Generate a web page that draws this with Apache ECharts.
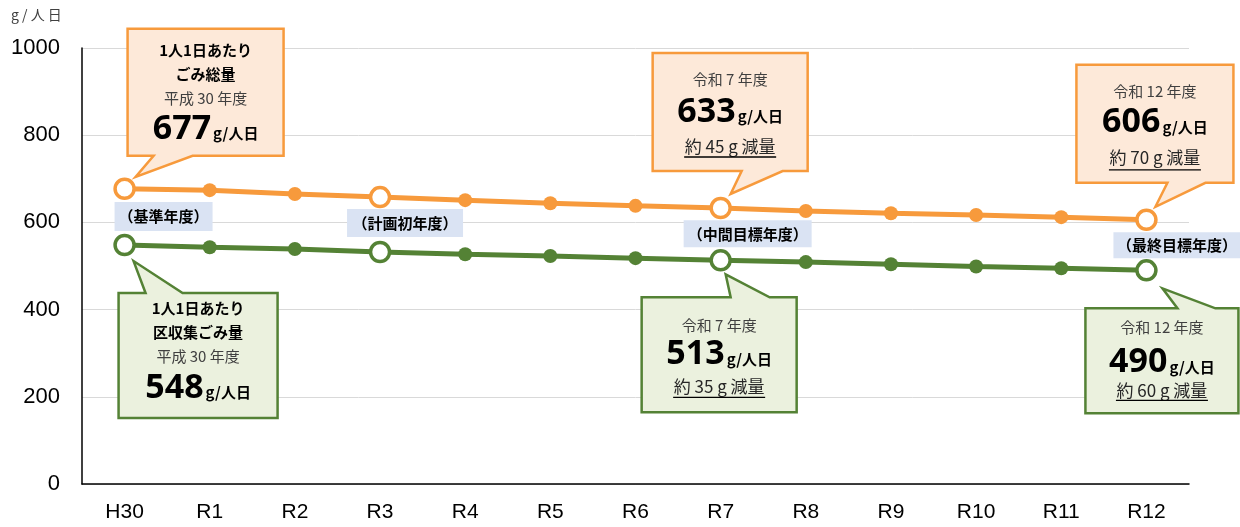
<!DOCTYPE html>
<html><head><meta charset="utf-8">
<script src="https://cdn.jsdelivr.net/npm/echarts@6/dist/echarts.min.js"></script>
<style>html,body{margin:0;padding:0;background:#fff}#c{width:1240px;height:527px}</style>
</head><body><div id="c"></div>
<script>
const categories = ['H30','R1','R2','R3','R4','R5','R6','R7','R8','R9','R10','R11','R12'];
const totalWaste = [677,674,665,658,651,644,638,633,626,621,617,612,606];
const collectedWaste = [548,543,539,532,527,523,518,513,509,504,499,495,490];
const hollowIdx = [0,3,7,12];
const yMin = 0, yMax = 1000, yInterval = 200;
const unitLabel = 'g/人日';
const yearTags = ['（基準年度）','（計画初年度）','（中間目標年度）','（最終目標年度）'];

const ORANGE = '#F79A3C', GREEN = '#548235';
const JP = '"Noto Sans CJK JP", sans-serif';
const LAT = '"Liberation Sans", Arial, sans-serif';
const NUM = '"Noto Sans", sans-serif';

function mk(vals, color){
  return vals.map((v,i)=> hollowIdx.includes(i)
    ? {value:v, symbolSize:19, itemStyle:{color:'#fff', borderColor:color, borderWidth:3.5}}
    : {value:v, symbolSize:14, itemStyle:{color:color, borderWidth:0}});
}

const chart = echarts.init(document.getElementById('c'), null, {renderer:'canvas'});
chart.setOption({
  animation:false,
  grid:{left:82, right:51, top:48, bottom:43},
  xAxis:{type:'category', data:categories, boundaryGap:true,
    axisLine:{lineStyle:{color:'#000', width:1.5}}, axisTick:{show:false},
    axisLabel:{color:'#000', fontSize:21, fontFamily:LAT, margin:18}},
  yAxis:{type:'value', min:yMin, max:yMax, interval:yInterval,
    axisLine:{show:true, lineStyle:{color:'#000', width:1.5}}, axisTick:{show:false},
    axisLabel:{color:'#000', fontSize:22, fontFamily:LAT, margin:22, formatter:v=>String(v)},
    splitLine:{lineStyle:{color:'#D9D9D9', width:1}}},
  series:[
    {type:'line', data:mk(totalWaste, ORANGE), symbol:'circle', lineStyle:{color:ORANGE, width:5}, itemStyle:{color:ORANGE}, emphasis:{disabled:true}, z:3},
    {type:'line', data:mk(collectedWaste, GREEN), symbol:'circle', lineStyle:{color:GREEN, width:5}, itemStyle:{color:GREEN}, emphasis:{disabled:true}, z:3}
  ]
});

function px(s, i){
  const vals = s===0 ? totalWaste : collectedWaste;
  return chart.convertToPixel({seriesIndex:s}, [i, vals[i]]);
}

// callout layout (offsets relative to anchor point)
const callouts = [
  {s:0, i:0, fill:'#FDE9D9', stroke:ORANGE, box:[3,-160,159,-33], tip:[11,-12], base:[29,68], tail:'bottom',
   lines:[{t:'1人1日あたり',k:'h',y:21},{t:'ごみ総量',k:'h',y:45},{t:'平成 30 年度',k:'s',y:69},{t:String(totalWaste[0]),k:'b',y:100}]},
  {s:0, i:7, fill:'#FDE9D9', stroke:ORANGE, box:[-68,-155,87,-37], tip:[10,-14], base:[21,62], tail:'bottom',
   lines:[{t:'令和 7 年度',k:'s',y:26},{t:String(totalWaste[7]),k:'b',y:59},{t:'約 45 g 減量',k:'r',y:94,u:104}]},
  {s:0, i:12, fill:'#FDE9D9', stroke:ORANGE, box:[-70,-155,87,-37], tip:[9,-13], base:[21,59], tail:'bottom',
   lines:[{t:'令和 12 年度',k:'s',y:27},{t:String(totalWaste[12]),k:'b',y:58},{t:'約 70 g 減量',k:'r',y:93,u:105}]},
  {s:1, i:0, fill:'#EBF1DE', stroke:GREEN, box:[-6,48,153,173], tip:[9,16], base:[21,58], tail:'top',
   lines:[{t:'1人1日あたり',k:'h',y:15},{t:'区収集ごみ量',k:'h',y:39},{t:'平成 30 年度',k:'s',y:63},{t:String(collectedWaste[0]),k:'b',y:95}]},
  {s:1, i:7, fill:'#EBF1DE', stroke:GREEN, box:[-79,37,76,152], tip:[5,14], base:[10,49], tail:'top',
   lines:[{t:'令和 7 年度',k:'s',y:28},{t:String(collectedWaste[7]),k:'b',y:57},{t:'約 35 g 減量',k:'r',y:89,u:100}]},
  {s:1, i:12, fill:'#EBF1DE', stroke:GREEN, box:[-61,38,92,143], tip:[16,18], base:[31,69], tail:'top',
   lines:[{t:'令和 12 年度',k:'s',y:19},{t:String(collectedWaste[12]),k:'b',y:54},{t:'約 60 g 減量',k:'r',y:82,u:92}]}
];

const tags = [
  {i:0, box:[-10,-43,88,-14], t:yearTags[0]},
  {i:3, box:[-33,-43,83,-15], t:yearTags[1]},
  {i:7, box:[-37,-40,91,-13], t:yearTags[2]},
  {i:12, box:[-33,-38,94,-12], t:yearTags[3]}
];

const g = [];
g.push({type:'text', left:11, top:8, style:{text:'g / 人 日', font:'14px '+JP, fill:'#404040'}});

callouts.forEach(c=>{
  const p = px(c.s, c.i);
  const x1=p[0]+c.box[0], y1=p[1]+c.box[1], x2=p[0]+c.box[2], y2=p[1]+c.box[3];
  const tx=p[0]+c.tip[0], ty=p[1]+c.tip[1], b1=p[0]+c.base[0], b2=p[0]+c.base[1];
  let pts;
  if(c.tail==='bottom') pts=[[x1,y1],[x2,y1],[x2,y2],[b2,y2],[tx,ty],[b1,y2],[x1,y2]];
  else pts=[[x1,y1],[b1,y1],[tx,ty],[b2,y1],[x2,y1],[x2,y2],[x1,y2]];
  g.push({type:'polygon', z:10, shape:{points:pts}, style:{fill:c.fill, stroke:c.stroke, lineWidth:2.5, lineJoin:'miter'}});
  const cx=(x1+x2)/2;
  c.lines.forEach(l=>{
    let st;
    if(l.k==='h') st={text:l.t, font:'bold 15px '+JP, fill:'#000'};
    else if(l.k==='s') st={text:l.t, font:'15px '+JP, fill:'#404040'};
    else if(l.k==='r') st={text:l.t, font:'17px '+JP, fill:'#262626'};
    else st={text:'{n|'+l.t+'}{u|'+unitLabel+'}', rich:{
      n:{fontSize:34, fontWeight:'bold', fontFamily:NUM, color:'#000'},
      u:{fontSize:15, fontWeight:'bold', fontFamily:JP, color:'#000', padding:[9,0,0,2]}}};
    st.align='center'; st.verticalAlign='middle';
    g.push({type:'text', z:11, x:cx, y:y1+l.y, style:st});
    if(l.u) g.push({type:'line', z:11, shape:{x1:cx-46, y1:y1+l.u, x2:cx+46, y2:y1+l.u}, style:{stroke:'#000', lineWidth:1.3}});
  });
});

tags.forEach(t=>{
  const p = px(1, t.i);
  const x1=p[0]+t.box[0], y1=p[1]+t.box[1], x2=p[0]+t.box[2], y2=p[1]+t.box[3];
  g.push({type:'rect', z:9, shape:{x:x1, y:y1, width:x2-x1, height:y2-y1}, style:{fill:'#DAE3F3'}});
  g.push({type:'text', z:10, x:(x1+x2)/2, y:(y1+y2)/2, style:{text:t.t, font:'bold 15px '+JP, fill:'#000', align:'center', verticalAlign:'middle'}});
});

chart.setOption({graphic:g});
</script>
</body></html>
